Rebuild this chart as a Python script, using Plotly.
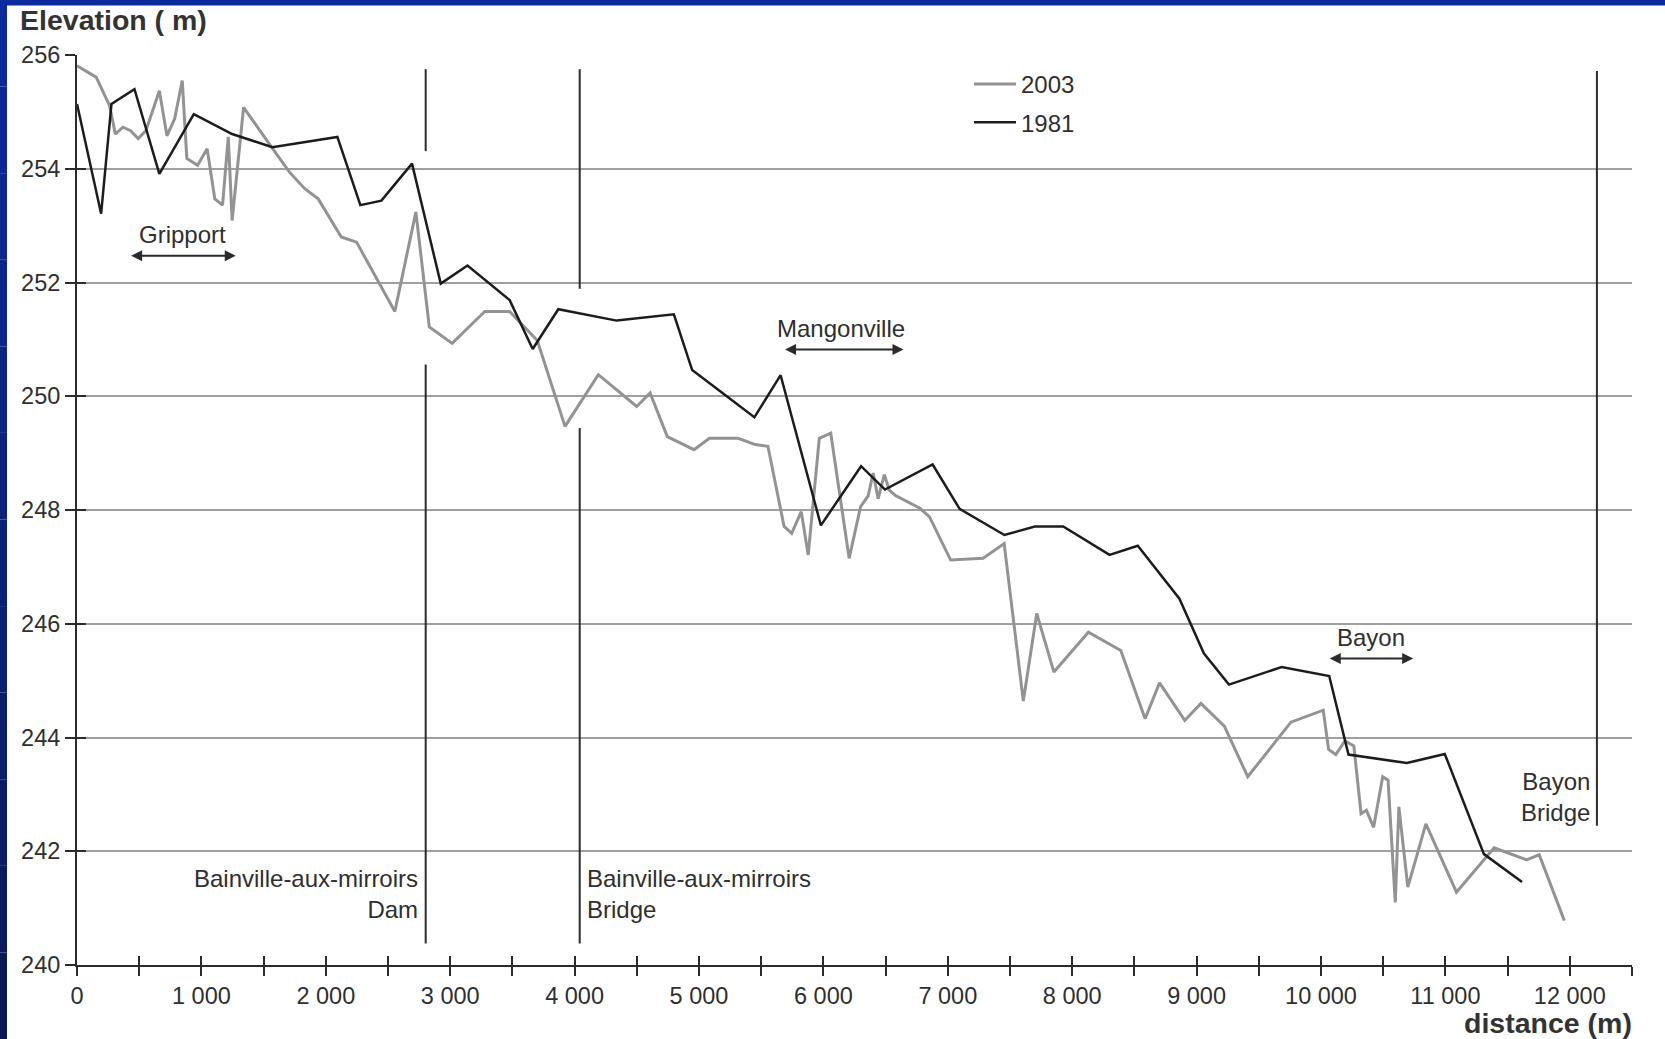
import plotly.graph_objects as go

# ---------------- data ----------------
dist_2003 = [0, 154, 262, 308, 369, 431, 492, 554, 662, 723, 785, 846, 883, 969, 1046, 1108, 1170,
             1216, 1247, 1339, 1554, 1708, 1831, 1939, 2124, 2247, 2555, 2724, 2832, 3016, 3278, 3478,
             3700, 3923, 4191, 4499, 4607, 4745, 4960, 5084, 5314, 5453, 5554, 5684, 5745, 5822, 5878,
             5967, 6059, 6207, 6299, 6360, 6400, 6440, 6490, 6530, 6576, 6776, 6853, 7023, 7284, 7453,
             7607, 7715, 7853, 8130, 8391, 8586, 8702, 8905, 9035, 9223, 9411, 9758, 10018, 10061,
             10119, 10192, 10264, 10322, 10365, 10423, 10496, 10539, 10597, 10626, 10698, 10843,
             11089, 11392, 11653, 11754, 11956]
elev_2003 = [255.81, 255.61, 255.11, 254.61, 254.73, 254.67, 254.53, 254.67, 255.37, 254.58, 254.88,
             255.55, 254.18, 254.06, 254.35, 253.47, 253.36, 254.56, 253.09, 255.08, 254.41, 253.94,
             253.65, 253.47, 252.80, 252.71, 251.49, 253.24, 251.22, 250.93, 251.49, 251.49, 250.98,
             249.47, 250.38, 249.82, 250.06, 249.29, 249.06, 249.26, 249.26, 249.15, 249.12, 247.71,
             247.59, 247.97, 247.21, 249.26, 249.35, 247.15, 248.06, 248.25, 248.65, 248.20, 248.62,
             248.35, 248.26, 248.03, 247.88, 247.12, 247.15, 247.41, 244.64, 246.18, 245.15, 245.85,
             245.53, 244.33, 244.96, 244.30, 244.60, 244.20, 243.31, 244.27, 244.48, 243.79, 243.70,
             243.94, 243.85, 242.66, 242.72, 242.42, 243.31, 243.25, 241.10, 242.78, 241.37, 242.48,
             241.28, 242.06, 241.85, 241.94, 240.78]

dist_1981 = [0, 194, 277, 462, 662, 939, 1247, 1570, 2093, 2278, 2447, 2693, 2924, 3139, 3478, 3663,
             3869, 4338, 4798, 4945, 5445, 5656, 5980, 6303, 6495, 6878, 7095, 7455, 7700, 7928, 8300,
             8527, 8862, 9058, 9260, 9684, 10066, 10221, 10690, 10995, 11310, 11616]
elev_1981 = [255.14, 253.21, 255.14, 255.40, 253.91, 254.96, 254.61, 254.38, 254.56, 253.36, 253.44,
             254.09, 251.98, 252.30, 251.69, 250.83, 251.53, 251.33, 251.44, 250.46, 249.63, 250.37,
             247.73, 248.77, 248.36, 248.80, 248.02, 247.56, 247.71, 247.71, 247.21, 247.37, 246.44,
             245.48, 244.93, 245.24, 245.08, 243.70, 243.55, 243.71, 241.95, 241.46]

x_tickvals = [0, 500, 1000, 1500, 2000, 2500, 3000, 3500, 4000, 4500, 5000, 5500, 6000, 6500, 7000,
              7500, 8000, 8500, 9000, 9500, 10000, 10500, 11000, 11500, 12000, 12500]
x_ticktext = ["0", "", "1 000", "", "2 000", "", "3 000", "", "4 000", "", "5 000", "", "6 000", "",
              "7 000", "", "8 000", "", "9 000", "", "10 000", "", "11 000", "", "12 000", ""]
y_tickvals = [240, 242, 244, 246, 248, 250, 252, 254, 256]

# landmark vertical lines: x, and list of (y0, y1) segments
landmark_names = ["Dam", "Bridge", "Bayon Bridge"]
landmark_x = [2803, 4041, 12218]
landmark_segments = [[(255.75, 254.31), (250.56, 240.38)],
                     [(255.75, 251.89), (249.44, 240.38)],
                     [(255.72, 242.45)]]
landmark_labels = ["Bainville-aux-mirroirs<br>Dam", "Bainville-aux-mirroirs<br>Bridge", "Bayon<br>Bridge"]
landmark_label_x = [2757, 4080, 12180]
landmark_label_y = [241.24, 241.24, 242.95]
landmark_label_side = ["right", "left", "right"]

# villages: name, label position, arrow extent
village_names = ["Gripport", "Mangonville", "Bayon"]
village_label_x = [849, 6140, 10399]
village_label_y = [252.84, 251.19, 245.76]
village_arrow_y = [252.47, 250.82, 245.39]
village_arrow_x0 = [423, 5680, 10058]
village_arrow_x1 = [1276, 6644, 10741]

FONT = "Liberation Sans, Arial, sans-serif"
GRAY = "#939393"
BLACK = "#1c1c1c"
TXT = "#2f2f2f"

fig = go.Figure()
fig.add_trace(go.Scatter(x=dist_2003, y=elev_2003, mode="lines", name="2003",
                         line=dict(color=GRAY, width=3), legendgroup="a", legendrank=1))
fig.add_trace(go.Scatter(x=dist_1981, y=elev_1981, mode="lines", name="1981",
                         line=dict(color=BLACK, width=2.5), legendgroup="b", legendrank=2))
# invisible trace for overlay axes (inside ticks)
fig.add_trace(go.Scatter(x=[None], y=[None], xaxis="x2", yaxis="y2", showlegend=False,
                         hoverinfo="skip"))

shapes = []
for xv, segs in zip(landmark_x, landmark_segments):
    for (y0, y1) in segs:
        shapes.append(dict(type="line", xref="x", yref="y", x0=xv, x1=xv, y0=y0, y1=y1,
                           line=dict(color="#2b2b2b", width=2)))

# blue frame of the slide
W, H = 1665, 1039
L, R, T, B = 77, 33, 55, 74
pw, ph = W - L - R, H - T - B
def px_x(p):
    return (p - L) / pw
def px_y(p):
    return (H - B - p) / ph
shapes.append(dict(type="rect", xref="paper", yref="paper", x0=px_x(0), x1=px_x(W), y0=px_y(0),
                   y1=px_y(5.5), fillcolor="#0b2a9c", line=dict(width=0), layer="above"))
n = 12
c0 = (11, 42, 156)
c1 = (10, 24, 86)
for i in range(n):
    t = i / (n - 1)
    col = "rgb(%d,%d,%d)" % tuple(round(a + (b - a) * t) for a, b in zip(c0, c1))
    shapes.append(dict(type="rect", xref="paper", yref="paper", x0=px_x(0), x1=px_x(7),
                       y0=px_y(H * i / n), y1=px_y(H * (i + 1) / n), fillcolor=col,
                       line=dict(width=0), layer="above"))

annotations = []
for txt, xv, yv, side in zip(landmark_labels, landmark_label_x, landmark_label_y, landmark_label_side):
    annotations.append(dict(x=xv, y=yv, xref="x", yref="y", text=txt, showarrow=False,
                            xanchor=side, yanchor="middle", align=side,
                            font=dict(family=FONT, size=24, color=TXT)))
for name, lx, ly, ay, x0, x1 in zip(village_names, village_label_x, village_label_y,
                                     village_arrow_y, village_arrow_x0, village_arrow_x1):
    annotations.append(dict(x=lx, y=ly, xref="x", yref="y", text=name, showarrow=False,
                            xanchor="center", yanchor="middle",
                            font=dict(family=FONT, size=24, color=TXT)))
    annotations.append(dict(x=x1, y=ay, ax=x0, ay=ay, xref="x", yref="y", axref="x", ayref="y",
                            text="", showarrow=True, arrowhead=2, arrowside="end+start",
                            arrowsize=1.1, arrowwidth=2, arrowcolor="#2b2b2b"))
annotations.append(dict(x=px_x(18), y=px_y(20), xref="paper", yref="paper", text="<b>Elevation ( m)</b>",
                        showarrow=False, xanchor="left", yanchor="middle",
                        font=dict(family=FONT, size=28.5, color="#333333")))
annotations.append(dict(x=px_x(1634), y=px_y(1023), xref="paper", yref="paper",
                        text="<b>distance (m)</b>", showarrow=False, xanchor="right",
                        yanchor="middle", font=dict(family=FONT, size=28.5, color="#333333")))

axis_common = dict(showline=True, linecolor="#2b2b2b", linewidth=2, ticks="outside",
                   tickcolor="#2b2b2b", tickwidth=2, zeroline=False,
                   tickfont=dict(family=FONT, size=23.5, color=TXT))

fig.update_layout(
    width=W, height=H,
    margin=dict(l=L, r=R, t=T, b=B),
    paper_bgcolor="white", plot_bgcolor="white",
    showlegend=True,
    legend=dict(x=px_x(969), y=px_y(62), xanchor="left", yanchor="top",
                bgcolor="rgba(0,0,0,0)", font=dict(family=FONT, size=24, color=TXT),
                traceorder="grouped", tracegroupgap=4, itemwidth=42),
    xaxis=dict(range=[0, 12500], tickmode="array", tickvals=x_tickvals, ticktext=x_ticktext,
               ticklen=9, showgrid=False, **axis_common),
    yaxis=dict(range=[240, 256], tickmode="array", tickvals=y_tickvals, ticklen=10,
               showgrid=True, gridcolor="#a0a0a0", gridwidth=1.5, **axis_common),
    xaxis2=dict(range=[0, 12500], overlaying="x", anchor="y2", tickmode="array",
                tickvals=x_tickvals, ticks="inside", ticklen=9, tickwidth=2, tickcolor="#2b2b2b",
                showticklabels=False, showgrid=False, showline=False, zeroline=False),
    yaxis2=dict(range=[240, 256], overlaying="y", anchor="x2", tickmode="array",
                tickvals=y_tickvals, ticks="inside", ticklen=9, tickwidth=2, tickcolor="#2b2b2b",
                showticklabels=False, showgrid=False, showline=False, zeroline=False),
    shapes=shapes,
    annotations=annotations,
)

fig.write_html("out.html", config={"displayModeBar": False},
               post_script="document.body.style.margin='0';document.body.style.overflow='hidden';")
